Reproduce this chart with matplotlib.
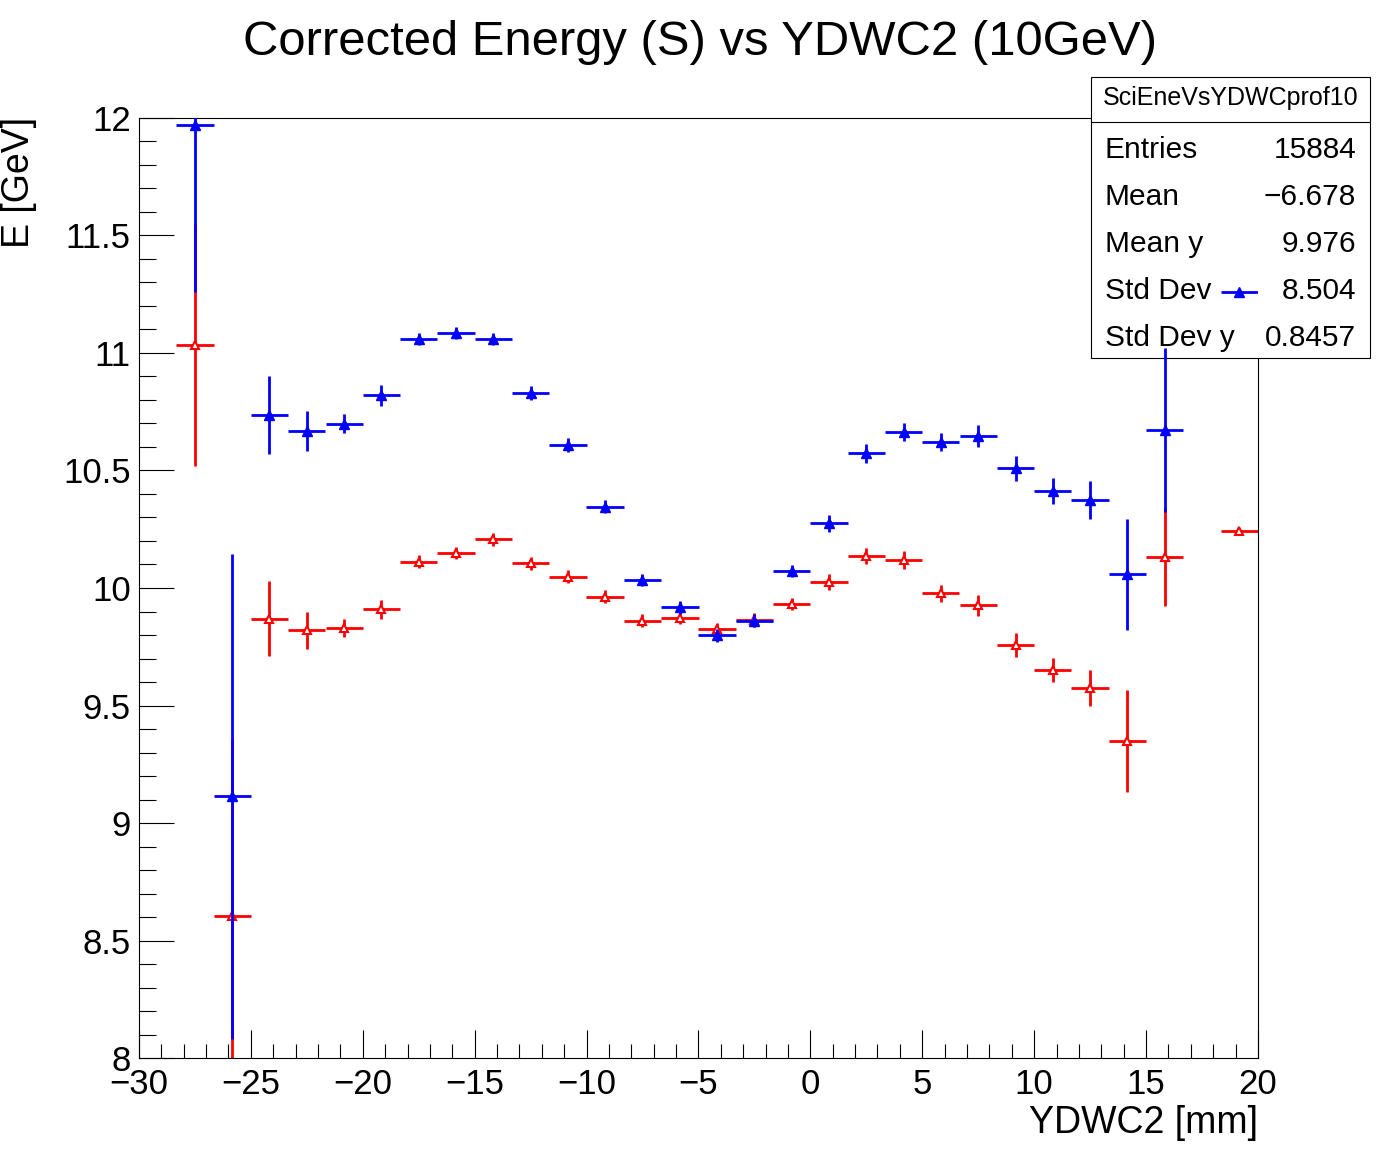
import matplotlib
matplotlib.use('Agg')
import matplotlib.pyplot as plt
from matplotlib.patches import Rectangle
from matplotlib.ticker import MultipleLocator, FuncFormatter

plt.rcParams['font.family'] = ['Liberation Sans', 'DejaVu Sans']

# bin centres (30 bins from -30 to 20 mm, width 5/3)
half_width = 0.8333

blue_x = [-27.5, -25.83, -24.17, -22.5, -20.83, -19.17, -17.5, -15.83, -14.17,
          -12.5, -10.83, -9.17, -7.5, -5.83, -4.17, -2.5, -0.83, 0.83, 2.5,
          4.17, 5.83, 7.5, 9.17, 10.83, 12.5, 14.17, 15.83, 19.17]
blue_y = [11.97, 9.113, 10.736, 10.669, 10.699, 10.82, 11.058, 11.084, 11.058,
          10.829, 10.607, 10.346, 10.034, 9.918, 9.799, 9.86, 10.072, 10.275,
          10.573, 10.662, 10.62, 10.647, 10.509, 10.413, 10.374, 10.058,
          10.672, 11.26]
blue_err = [0.71, 1.03, 0.167, 0.085, 0.04, 0.045, 0.025, 0.025, 0.025,
            0.03, 0.03, 0.028, 0.025, 0.027, 0.027, 0.028, 0.025, 0.035,
            0.04, 0.038, 0.038, 0.047, 0.053, 0.055, 0.08, 0.235, 0.35, 0.003]

red_x = [-27.5, -25.83, -24.17, -22.5, -20.83, -19.17, -17.5, -15.83, -14.17,
         -12.5, -10.83, -9.17, -7.5, -5.83, -4.17, -2.5, -0.83, 0.83, 2.5,
         4.17, 5.83, 7.5, 9.17, 10.83, 12.5, 14.17, 15.83, 19.17]
red_y = [11.035, 8.606, 9.87, 9.82, 9.83, 9.91, 10.112, 10.148, 10.207,
         10.105, 10.048, 9.963, 9.861, 9.874, 9.824, 9.864, 9.932, 10.026,
         10.136, 10.119, 9.977, 9.926, 9.756, 9.651, 9.574, 9.349, 10.132,
         10.243]
red_err = [0.515, 0.75, 0.16, 0.08, 0.04, 0.04, 0.028, 0.026, 0.027,
           0.027, 0.028, 0.028, 0.028, 0.028, 0.029, 0.028, 0.027, 0.033,
           0.035, 0.038, 0.036, 0.045, 0.051, 0.053, 0.076, 0.215, 0.21, 0.004]

stat_names = ['Entries', 'Mean', 'Mean y', 'Std Dev', 'Std Dev y']
stat_values = ['15884', '\u22126.678', '9.976', '8.504', '0.8457']

fig = plt.figure(figsize=(13.98, 11.76), dpi=100)
ax = fig.add_axes([0.0994, 0.1003, 0.8004, 0.7994])

ax.errorbar(red_x, red_y, yerr=red_err, xerr=half_width, fmt='^', color='red',
            ms=5.5, mfc='white', mec='red', mew=1.5, elinewidth=2, capsize=0,
            zorder=2)
ax.errorbar(blue_x, blue_y, yerr=blue_err, xerr=half_width, fmt='^', color='blue',
            ms=7, mfc='blue', mec='blue', elinewidth=2, capsize=0, zorder=5)

ax.set_xlim(-30, 20)
ax.set_ylim(8, 12)
ax.xaxis.set_major_locator(MultipleLocator(5))
ax.xaxis.set_minor_locator(MultipleLocator(1))
ax.yaxis.set_major_locator(MultipleLocator(0.5))
ax.yaxis.set_minor_locator(MultipleLocator(0.1))
fmt = FuncFormatter(lambda v, p: ('%g' % v).replace('-', '\u2212'))
ax.xaxis.set_major_formatter(fmt)
ax.yaxis.set_major_formatter(fmt)

ax.tick_params(axis='both', which='both', direction='in', top=False, right=False,
               width=0.8, labelsize=25)
ax.tick_params(axis='y', which='major', length=25, pad=6)
ax.tick_params(axis='y', which='minor', length=12.5)
ax.tick_params(axis='x', which='major', length=20, pad=7)
ax.tick_params(axis='x', which='minor', length=10)
for s in ax.spines.values():
    s.set_linewidth(0.8)

# stats box (drawn above red, below blue)
ax.add_patch(Rectangle((0.7804, 0.6956), 0.1996, 0.2389, transform=fig.transFigure,
                       facecolor='white', edgecolor='black', lw=0.8,
                       clip_on=False, zorder=3))
ax.add_line(plt.Line2D([0.7804, 0.98], [0.8963, 0.8963], transform=fig.transFigure,
                       color='black', lw=0.8, clip_on=False, zorder=3.1))
ax.text(0.8802, 0.9107, 'SciEneVsYDWCprof10', transform=fig.transFigure,
        ha='center', va='baseline', fontsize=18, zorder=3.2, clip_on=False)
for i, (n, v) in enumerate(zip(stat_names, stat_values)):
    yy = 1 - (158 + 47 * i) / 1176
    ax.text(0.7904, yy, n, transform=fig.transFigure, ha='left', va='baseline',
            fontsize=21.5, zorder=3.2, clip_on=False)
    ax.text(0.970, yy, v, transform=fig.transFigure, ha='right', va='baseline',
            fontsize=21.5, zorder=3.2, clip_on=False)

fig.text(0.5007, 0.9532, 'Corrected Energy (S) vs YDWC2 (10GeV)',
         ha='center', va='baseline', fontsize=35.3)
fig.text(0.8999, 0.0366, 'YDWC2 [mm]', ha='right', va='baseline', fontsize=27)
fig.text(0.0005, 0.9005, 'E [GeV]', ha='left', va='top', rotation=90, fontsize=27)

fig.savefig('out.png', dpi=100)
